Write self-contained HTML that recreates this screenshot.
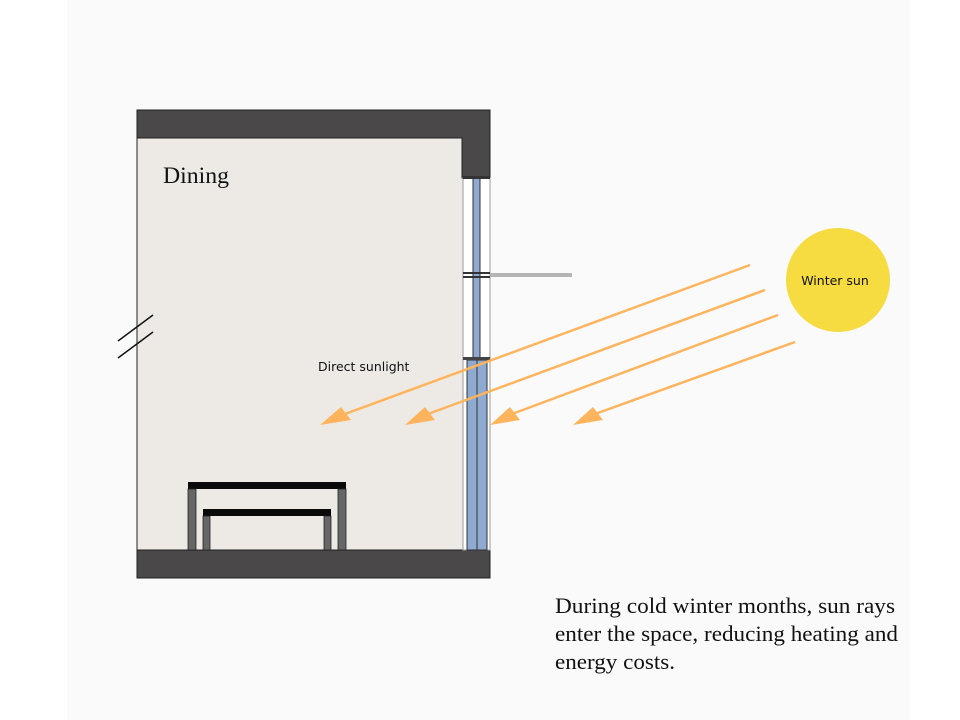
<!DOCTYPE html>
<html><head><style>
html,body{margin:0;padding:0;background:#fff;width:960px;height:720px;overflow:hidden}
svg{display:block}
</style></head><body>
<svg width="960" height="720" viewBox="0 0 960 720" xmlns="http://www.w3.org/2000/svg">
<rect x="0" y="0" width="960" height="720" fill="#ffffff"/>
<rect x="67" y="0" width="843" height="720" fill="#fafafa"/>
<!-- room interior -->
<rect x="137" y="110" width="326" height="440" fill="#edeae6" stroke="#222" stroke-width="1"/>
<!-- walls -->
<polygon points="137,110 490,110 490,178 462,178 462,138 137,138" fill="#4a4848" stroke="#222" stroke-width="1"/>
<rect x="137" y="550" width="353" height="28" fill="#4a4848" stroke="#222" stroke-width="1"/>
<!-- window -->
<rect x="463" y="178" width="27" height="372" fill="#fff" stroke="#999" stroke-width="1"/>
<rect x="473" y="178" width="7" height="180" fill="#8eaad0" stroke="#333" stroke-width="1"/>
<rect x="467" y="360" width="20" height="190" fill="#8eaad0" stroke="#333" stroke-width="1"/>
<line x1="477" y1="360" x2="477" y2="550" stroke="#333" stroke-width="1"/>
<rect x="463" y="176" width="27" height="3" fill="#333"/>
<rect x="463" y="272" width="27" height="2" fill="#333"/>
<rect x="463" y="276" width="27" height="2" fill="#333"/>
<rect x="463" y="357" width="27" height="3" fill="#444"/>
<rect x="490" y="273" width="82" height="4" fill="#b5b5b5"/>
<!-- break marks -->
<line x1="118" y1="341" x2="153" y2="315" stroke="#111" stroke-width="1.5"/>
<line x1="118" y1="358" x2="153" y2="332" stroke="#111" stroke-width="1.5"/>
<!-- tables -->
<rect x="188" y="482" width="158" height="7" fill="#0a0a0a"/>
<rect x="188" y="489" width="8" height="61" fill="#666" stroke="#222" stroke-width="0.8"/>
<rect x="338" y="489" width="8" height="61" fill="#666" stroke="#222" stroke-width="0.8"/>
<rect x="203" y="509" width="128" height="7" fill="#0a0a0a"/>
<rect x="203" y="516" width="7" height="34" fill="#666" stroke="#222" stroke-width="0.8"/>
<rect x="324" y="516" width="7" height="34" fill="#666" stroke="#222" stroke-width="0.8"/>
<!-- sun -->
<circle cx="838" cy="280" r="52" fill="#f6dc40"/>
<text x="835" y="285" font-family="'DejaVu Sans', sans-serif" font-size="12.5" fill="#111" text-anchor="middle">Winter sun</text>
<!-- rays -->
<g stroke="#fdb45c" stroke-width="2.5" fill="none">
<line x1="750" y1="265" x2="345" y2="414"/>
<line x1="765" y1="290" x2="428" y2="414"/>
<line x1="778" y1="315" x2="512" y2="414"/>
<line x1="795" y1="342" x2="595" y2="414"/>
</g>
<g fill="#fdb45c">
<polygon points="320,425 341,407 351,420"/>
<polygon points="405,425 425,407 435,420"/>
<polygon points="490,425 510,407 520,420"/>
<polygon points="573,425 593,407 603,420"/>
</g>
<text x="163" y="183" font-family="'Liberation Serif', serif" font-size="23" fill="#111" textLength="66" lengthAdjust="spacingAndGlyphs">Dining</text>
<text x="318" y="371" font-family="'DejaVu Sans', sans-serif" font-size="12.5" fill="#111">Direct sunlight</text>
<g font-family="'Liberation Serif', serif" font-size="22" fill="#111" lengthAdjust="spacingAndGlyphs">
<text x="555" y="613" textLength="340" lengthAdjust="spacingAndGlyphs">During cold winter months, sun rays</text>
<text x="555" y="641" textLength="343" lengthAdjust="spacingAndGlyphs">enter the space, reducing heating and</text>
<text x="555" y="669" textLength="120" lengthAdjust="spacingAndGlyphs">energy costs.</text>
</g>
</svg>
</body></html>
